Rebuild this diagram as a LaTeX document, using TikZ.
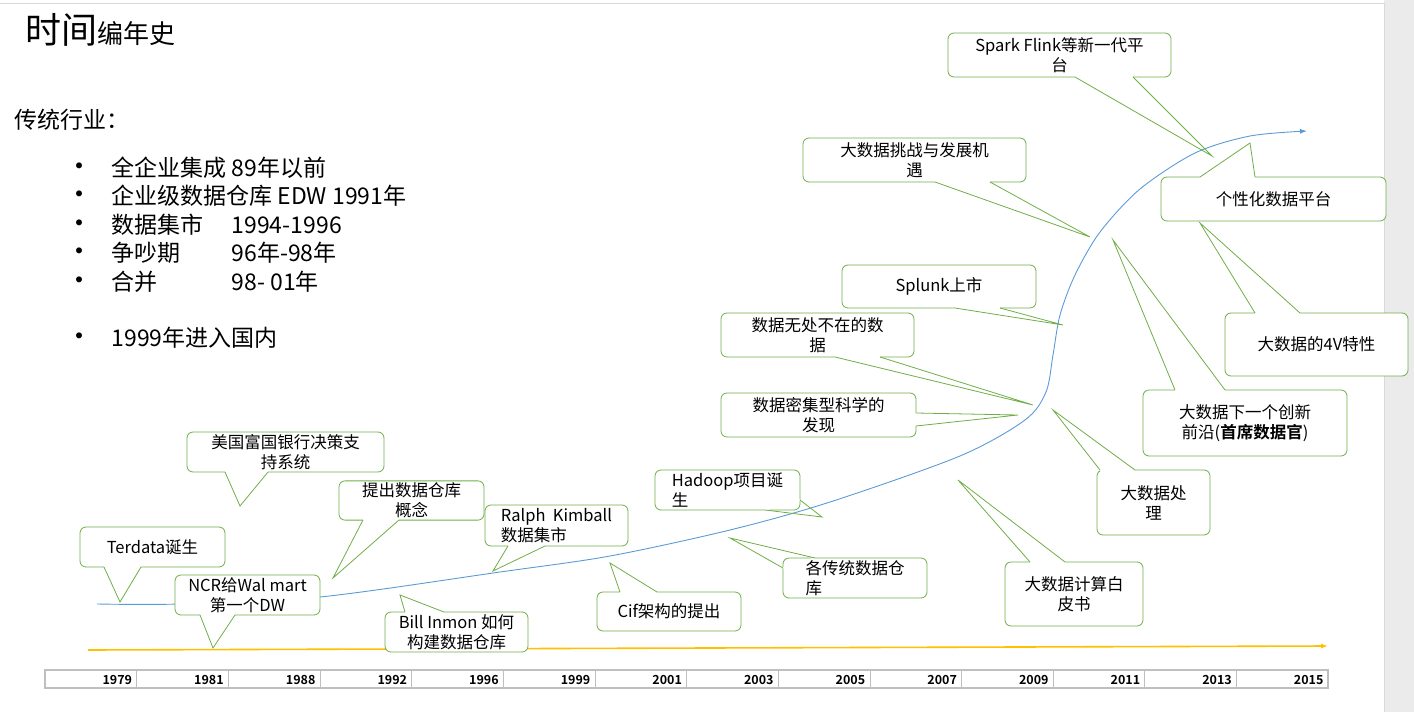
\documentclass[tikz,border=0pt]{standalone}
\usepackage{fontspec}
\setmainfont{Noto Sans CJK SC}[BoldFont=* Bold]
\usetikzlibrary{arrows.meta}
\definecolor{cgreen}{RGB}{112,173,71}
\definecolor{cblue}{RGB}{91,155,213}
\definecolor{cyellow}{RGB}{255,192,0}
\newcommand\tail[3]{%
  \draw[white,line width=1.4pt] #1 -- #2;
  \draw[cgreen,line width=0.8pt] #1 -- #3 -- #2;}
\begin{document}
\begin{tikzpicture}[x=1pt,y=-1pt, >={Latex[length=7pt,width=5pt]},
  callout/.style={draw=cgreen,line width=0.8pt,rounded corners=6pt,fill=white,align=center,inner sep=2pt,font=\fontsize{16.5}{20}\selectfont},
  year/.style={anchor=east,font=\fontsize{12.5}{13}\selectfont\bfseries},
  item/.style={anchor=west,font=\fontsize{23}{26}\selectfont}]
\useasboundingbox (0,0) rectangle (1414,712);
% page frame
\fill[black!8] (1384,0) rectangle (1414,712);
\draw[black!15] (0,3) -- (1384,3) -- (1384,712);
% title and list
\node[anchor=base west,inner sep=0] (title) at (25,43) {\fontsize{36}{38}\selectfont 时间\fontsize{26}{28}\selectfont 编年史};
\node[anchor=base west,inner sep=0,font=\fontsize{23}{26}\selectfont] (trade) at (14,128) {传统行业：};
\foreach \t [count=\i] in {全企业集成 89年以前,企业级数据仓库 EDW 1991年,数据集市\quad\ 1994-1996,争吵期\qquad\ 96年-98年,合并\qquad\quad\ 98- 01年}
  \node[item] (li\i) at (62,139+28.5*\i) {{\fontsize{28}{28}\selectfont•}\hspace{18pt}\t};
\node[item] (li6) at (62,338) {{\fontsize{28}{28}\selectfont•}\hspace{18pt}1999年进入国内};
% timeline table
\draw[black!25,line width=1.2pt] (45,670) rectangle (1328,688);
\foreach \y [count=\i] in {1979,1981,1988,1992,1996,1999,2001,2003,2005,2007,2009,2011,2013,2015}{
  \draw[black!25] ({45+91.64*\i},670) -- ({45+91.64*\i},688);
  \node[year] (y\i) at ({45+91.64*\i-1},680) {\y};}
% axes
\draw[cyellow,line width=1.6pt,->] (88,650) -- (1328,646);
\draw[cblue,line width=0.9pt,->] plot[smooth,tension=0.5] coordinates {(97,604) (180,604) (320,597) (500,572) (610,556) (730,530) (830,502) (960,456) (1025,420) (1046,392) (1053,355) (1060,315) (1075,275) (1100,232) (1140,189) (1195,153) (1250,136) (1307,131)};
% callouts
\node[callout,minimum width=145,minimum height=40] (terdata) at (152.5,547) {Terdata诞生};
\tail{(104,567)}{(141,567)}{(120,602)}
\node[callout,minimum width=145,minimum height=40] (ncr) at (247.5,595) {NCR给Wal mart\\第一个DW};
\tail{(200,615)}{(235,615)}{(213,648)}
\node[callout,minimum width=197,minimum height=40] (wells) at (285.5,452) {美国富国银行决策支\\持系统};
\tail{(225,472)}{(268,472)}{(240,506)}
\node[callout,minimum width=145,minimum height=39] (concept) at (411.5,500.5) {提出数据仓库\\概念};
\tail{(363,520)}{(399,520)}{(333,578)}
\node[callout,minimum width=143,minimum height=41,align=left] (kimball) at (556.5,525.5) {Ralph\ \ Kimball\\数据集市};
\tail{(508,546)}{(545,546)}{(493,571)}
\node[callout,minimum width=143,minimum height=40] (inmon) at (456.5,632) {Bill Inmon 如何\\构建数据仓库};
\tail{(405,612)}{(444,612)}{(400,595)}
\node[callout,minimum width=144,minimum height=39] (cif) at (669,611.5) {Cif架构的提出};
\tail{(620,592)}{(657,592)}{(610,563)}
\node[callout,minimum width=145,minimum height=40,align=left] (hadoop) at (727.5,490) {Hadoop项目诞\\生\hspace{100pt}};
\tail{(765,510)}{(800,500)}{(822,517)}
\node[callout,minimum width=144,minimum height=40,align=left] (edw) at (855,578) {各传统数据仓\\库\hspace{84pt}};
\tail{(783,568)}{(815,558)}{(730,538)}
\node[callout,minimum width=195,minimum height=44] (science) at (818.5,415) {数据密集型科学的\\发现};
\tail{(916,413)}{(916,426)}{(1018,415)}
\node[callout,minimum width=193,minimum height=44] (everywhere) at (817.5,335) {数据无处不在的数\\据};
\tail{(835,357)}{(880,357)}{(1033,405)}
\node[callout,minimum width=194,minimum height=43] (splunk) at (939,286.5) {Splunk上市};
\tail{(955,308)}{(1000,308)}{(1063,325)}
\node[callout,minimum width=223,minimum height=44] (challenge) at (914.5,160) {大数据挑战与发展机\\遇};
\tail{(935,182)}{(990,182)}{(1090,237)}
\node[callout,minimum width=223,minimum height=44] (spark) at (1059.5,55) {Spark Flink等新一代平\\台};
\tail{(1075,77)}{(1133,77)}{(1212,156)}
\node[callout,minimum width=225,minimum height=44] (personal) at (1273.5,199) {个性化数据平台};
\tail{(1200,177)}{(1255,177)}{(1250,143)}
\node[callout,minimum width=183,minimum height=63] (fourv) at (1316.5,344.5) {大数据的4V特性};
\tail{(1255,313)}{(1300,313)}{(1200,223)}
\node[callout,minimum width=204,minimum height=66] (frontier) at (1245,423) {大数据下一个创新\\前沿(\textbf{首席数据官})};
\tail{(1175,390)}{(1225,390)}{(1113,240)}
\node[callout,minimum width=113,minimum height=65] (process) at (1153.5,502.5) {大数据处\\理};
\tail{(1100,470)}{(1135,470)}{(1053,410)}
\node[callout,minimum width=138,minimum height=64] (white) at (1074,594) {大数据计算白\\皮书};
\tail{(1030,562)}{(1065,562)}{(958,480)}
\end{tikzpicture}
\end{document}
